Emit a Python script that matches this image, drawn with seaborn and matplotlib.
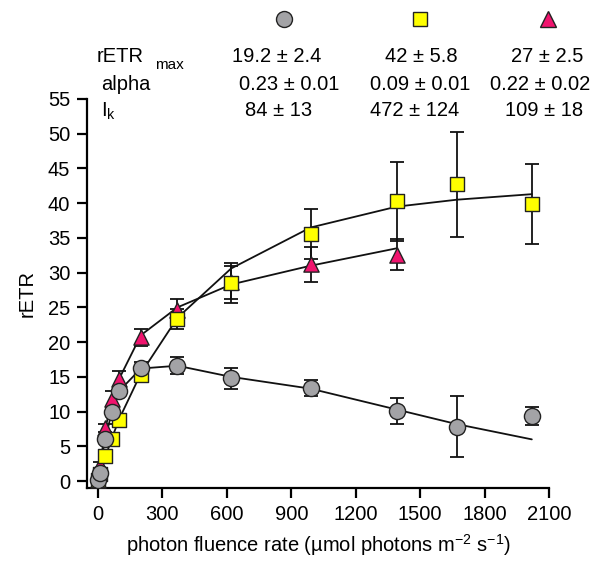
import numpy as np
import pandas as pd
import matplotlib
matplotlib.use('Agg')
import matplotlib.pyplot as plt
import seaborn as sns

# light levels (photon fluence rate)
par = [0, 10, 35, 65, 100, 200, 370, 620, 990, 1390, 1670, 2020]
par_tri = [0, 10, 35, 65, 100, 200, 370, 620, 990, 1390]

# measured rETR (mean) and sd
grey_y = [0.1, 1.2, 6.0, 10.0, 13.0, 16.3, 16.6, 14.8, 13.4, 10.1, 7.8, 9.3]
grey_sd = [0.3, 0.4, 0.5, 0.6, 0.6, 0.8, 1.2, 1.5, 1.1, 1.9, 4.4, 1.3]
yel_y = [0.1, 1.0, 3.6, 6.1, 8.8, 15.3, 23.3, 28.5, 35.6, 40.3, 42.7, 39.9]
yel_sd = [0.2, 0.3, 0.4, 0.5, 0.6, 0.8, 1.4, 2.9, 3.6, 5.7, 7.6, 5.8]
tri_y = [0.2, 2.3, 7.6, 11.8, 14.7, 20.7, 24.6, 28.6, 31.2, 32.6]
tri_sd = [0.3, 0.4, 0.6, 1.1, 1.1, 1.2, 1.6, 2.4, 2.5, 2.2]

# fitted curves
grey_fit = [0, 2.2, 6.2, 10.0, 13.0, 16.2, 16.6, 15.0, 13.3, 10.3, 8.2, 6.0]
yel_fit = [0, 1.0, 3.5, 6.2, 9.0, 15.5, 23.5, 30.6, 36.5, 39.5, 40.5, 41.3]
tri_fit = [0, 2.3, 7.6, 11.8, 14.8, 21.0, 25.0, 28.3, 31.0, 33.5]

# header table
col_vals = [['19.2 \u00b1 2.4', '42 \u00b1 5.8', '27 \u00b1 2.5'],
            ['0.23 \u00b1 0.01', '0.09 \u00b1 0.01', '0.22 \u00b1 0.02'],
            ['84 \u00b1 13', '472 \u00b1 124', '109 \u00b1 18']]

sns.set_style('ticks')
plt.rcParams['font.family'] = ['Liberation Sans', 'DejaVu Sans']
plt.rcParams['mathtext.default'] = 'regular'
plt.rcParams['axes.unicode_minus'] = False
plt.rcParams['text.color'] = 'black'
plt.rcParams['axes.labelcolor'] = 'black'
plt.rcParams['xtick.color'] = 'black'
plt.rcParams['ytick.color'] = 'black'
fs = 14.5

W, H = 606, 562
fig = plt.figure(figsize=(W / 100, H / 100), dpi=100)
ax = fig.add_axes([87 / W, 1 - 488 / H, (549 - 87) / W, (488 - 99) / H])

grey_c = '#a3a3a6'
yel_c = '#ffff00'
pink_c = '#f0146e'
edge = '#222222'

# fit lines
for xs, ys in [(par, grey_fit), (par, yel_fit), (par_tri, tri_fit)]:
    sns.lineplot(x=xs, y=ys, ax=ax, color='#111111', lw=1.3, sort=False,
                 estimator=None, zorder=1)

# error bars
for xs, ys, sd in [(par_tri, tri_y, tri_sd), (par, yel_y, yel_sd), (par, grey_y, grey_sd)]:
    ax.errorbar(xs, ys, yerr=sd, fmt='none', ecolor='#111111', elinewidth=1.3,
                capsize=5, capthick=1.3, zorder=2)

sns.scatterplot(x=par_tri, y=tri_y, ax=ax, marker='^', s=120, color=pink_c,
                edgecolor=edge, linewidth=1.0, zorder=3)
sns.scatterplot(x=par, y=yel_y, ax=ax, marker='s', s=110, color=yel_c,
                edgecolor=edge, linewidth=1.0, zorder=4)
sns.scatterplot(x=par, y=grey_y, ax=ax, marker='o', s=135, color=grey_c,
                edgecolor=edge, linewidth=1.0, zorder=5)

ax.set_xlim(-51, 2100)
ax.set_ylim(-1.0, 55)
ax.set_xticks(np.arange(0, 2101, 300))
ax.set_yticks(np.arange(0, 56, 5))
ax.tick_params(labelsize=fs, width=1.6, length=7, pad=5, color='black', labelcolor='black')
for s in ['top', 'right']:
    ax.spines[s].set_visible(False)
for s in ['left', 'bottom']:
    ax.spines[s].set_linewidth(1.6)
    ax.spines[s].set_color('black')
ax.spines['left'].set_bounds(-1.0, 55)
ax.set_xlabel('photon fluence rate (\u00b5mol photons m$^{-2}$ s$^{-1}$)', fontsize=fs,
              labelpad=6, color='black')
ax.set_ylabel('rETR', fontsize=fs, labelpad=8, color='black')

# header: symbols
hx = [284, 420, 548]
hy = 19
for x, m, c, ms in zip(hx, ['o', 's', '^'], [grey_c, yel_c, pink_c], [11.5, 10.5, 11]):
    ax.plot([x / W], [1 - hy / H], marker=m, color=c, markeredgecolor=edge,
            markersize=ms, markeredgewidth=1.0, transform=fig.transFigure, clip_on=False)

# header: parameter table
row_y = [57, 84, 111]
col_x = [[277, 421, 547], [289, 420, 540], [279, 415, 544]]
fig.text(97 / W, 1 - row_y[0] / H, 'rETR', fontsize=fs, ha='left', va='center', color='black')
fig.text(155 / W, 1 - (row_y[0] + 8) / H, 'max', fontsize=11, ha='left', va='center', color='black')
fig.text(101 / W, 1 - row_y[1] / H, 'alpha', fontsize=fs, ha='left', va='center', color='black')
fig.text(101 / W, 1 - row_y[2] / H, 'I$_k$', fontsize=fs, ha='left', va='center', color='black')
for r in range(3):
    for c in range(3):
        fig.text(col_x[r][c] / W, 1 - row_y[r] / H, col_vals[r][c], fontsize=fs,
                 ha='center', va='center', color='black')

fig.savefig('out.png', dpi=100)
